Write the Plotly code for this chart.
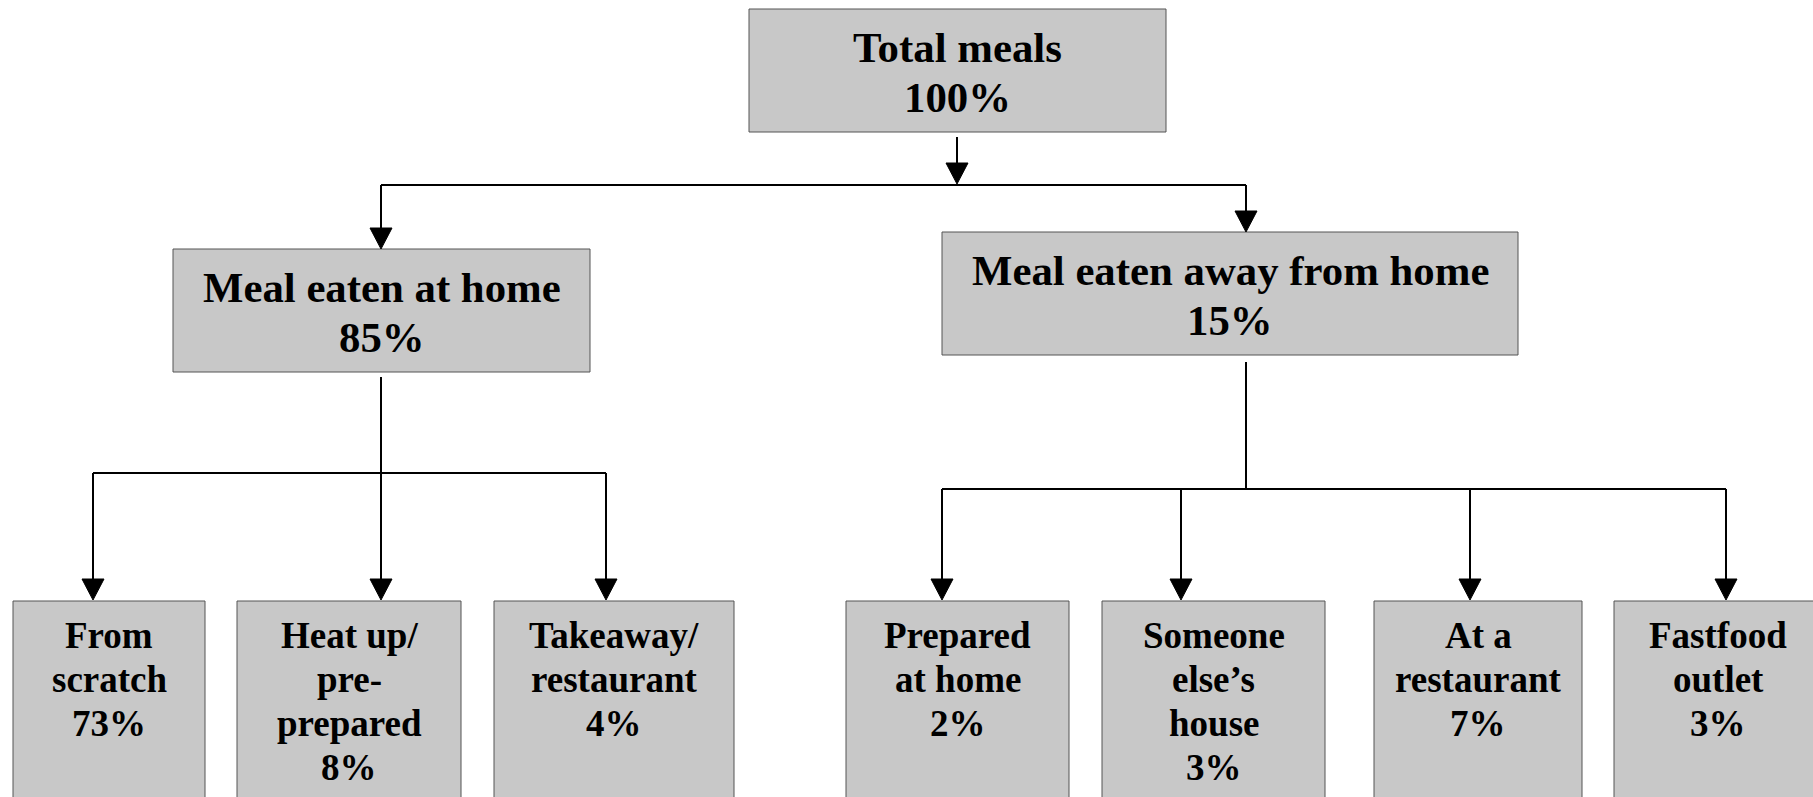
import plotly.graph_objects as go

# ---------------- data ----------------
root_label = ["Total meals"]
root_pct = [100]

mid_labels = ["Meal eaten at home", "Meal eaten away from home"]
mid_pct = [85, 15]

leaf_labels = [
    ["From", "scratch"],
    ["Heat up/", "pre-", "prepared"],
    ["Takeaway/", "restaurant"],
    ["Prepared", "at home"],
    ["Someone", "else\u2019s", "house"],
    ["At a", "restaurant"],
    ["Fastfood", "outlet"],
]
leaf_pct = [73, 8, 4, 2, 3, 7, 3]
leaf_parent = [0, 0, 0, 1, 1, 1, 1]

# ---------------- layout (pixel space) ----------------
W, H = 1813, 797
root_box = (749, 1166, 9, 132)
mid_boxes = [(173, 590, 249, 372), (942, 1518, 232, 355)]
leaf_boxes_x = [(13, 205), (237, 461), (494, 734), (846, 1069),
                (1102, 1325), (1374, 1582), (1614, 1822)]
leaf_top, leaf_bottom = 601, 840

root_arrow_x = 957
root_stem_top = 137
root_bus_y = 185
mid_arrow_x = [381, 1246]
mid_stem_top = [377, 362]
mid_bus_y = [473, 489]
leaf_arrow_x = [93, 381, 606, 942, 1181, 1470, 1726]

FILL = "#c8c8c8"
EDGE = "#555555"
FONT = "Liberation Serif, Times New Roman, serif"
BIG, SMALL = 42.8, 37
LINE_BIG, LINE_SMALL = 50.5, 44
ARW_H, ARW_W = 21, 11

shapes = []
annotations = []


def rect(x0, x1, y0, y1):
    shapes.append(dict(type="rect", xref="x", yref="y", x0=x0, x1=x1, y0=y0, y1=y1,
                       fillcolor=FILL, line=dict(color=EDGE, width=1), layer="below"))


def seg(x0, y0, x1, y1):
    shapes.append(dict(type="line", xref="x", yref="y", x0=x0, y0=y0, x1=x1, y1=y1,
                       line=dict(color="black", width=2)))


def arrow(x, y_from, y_tip):
    seg(x, y_from, x, y_tip - ARW_H + 2)
    shapes.append(dict(type="path", xref="x", yref="y",
                       path=f"M {x-ARW_W},{y_tip-ARW_H} L {x+ARW_W},{y_tip-ARW_H} L {x},{y_tip} Z",
                       fillcolor="black", line=dict(color="black", width=1)))


def text_lines(lines, cx, first_baseline, spacing, size):
    for i, ln in enumerate(lines):
        base = first_baseline + i * spacing
        annotations.append(dict(x=cx, y=base - 0.30 * size, xref="x", yref="y",
                                text=ln, showarrow=False, xanchor="center", yanchor="middle",
                                font=dict(family=FONT, size=size, color="black", weight="bold")))


# root
x0, x1, y0, y1 = root_box
rect(x0, x1, y0, y1)
cy = (y0 + y1) / 2
text_lines([root_label[0], f"{root_pct[0]}%"], (x0 + x1) / 2, cy - 10.5, LINE_BIG, BIG)
arrow(root_arrow_x, root_stem_top, root_bus_y - 1)
seg(min(mid_arrow_x), root_bus_y, max(mid_arrow_x), root_bus_y)

# middle level
for i, (bx0, bx1, by0, by1) in enumerate(mid_boxes):
    rect(bx0, bx1, by0, by1)
    cy = (by0 + by1) / 2
    text_lines([mid_labels[i], f"{mid_pct[i]}%"], (bx0 + bx1) / 2, cy - 10.5, LINE_BIG, BIG)
    arrow(mid_arrow_x[i], root_bus_y, by0)
    kids = [k for k, p in enumerate(leaf_parent) if p == i]
    kx = [leaf_arrow_x[k] for k in kids]
    seg(mid_arrow_x[i], mid_stem_top[i], mid_arrow_x[i], mid_bus_y[i])
    seg(min(kx), mid_bus_y[i], max(kx), mid_bus_y[i])
    for k in kids:
        arrow(leaf_arrow_x[k], mid_bus_y[i], leaf_top - 1)

# leaves
for k, (lx0, lx1) in enumerate(leaf_boxes_x):
    rect(lx0, lx1, leaf_top, leaf_bottom)
    text_lines(leaf_labels[k] + [f"{leaf_pct[k]}%"], (lx0 + lx1) / 2, 647, LINE_SMALL, SMALL)

fig = go.Figure()
fig.add_trace(go.Scatter(x=[0, W], y=[0, H], mode="markers", marker=dict(opacity=0),
                         hoverinfo="skip", showlegend=False))
fig.update_layout(
    width=W, height=H,
    margin=dict(l=0, r=0, t=0, b=0),
    paper_bgcolor="white", plot_bgcolor="white",
    xaxis=dict(range=[0, W], visible=False, fixedrange=True),
    yaxis=dict(range=[H, 0], visible=False, fixedrange=True),
    shapes=shapes, annotations=annotations,
    showlegend=False,
)
fig.write_html("out.html",
               config={"displayModeBar": False, "staticPlot": True},
               post_script="document.body.style.margin='0';document.body.style.overflow='hidden';")
